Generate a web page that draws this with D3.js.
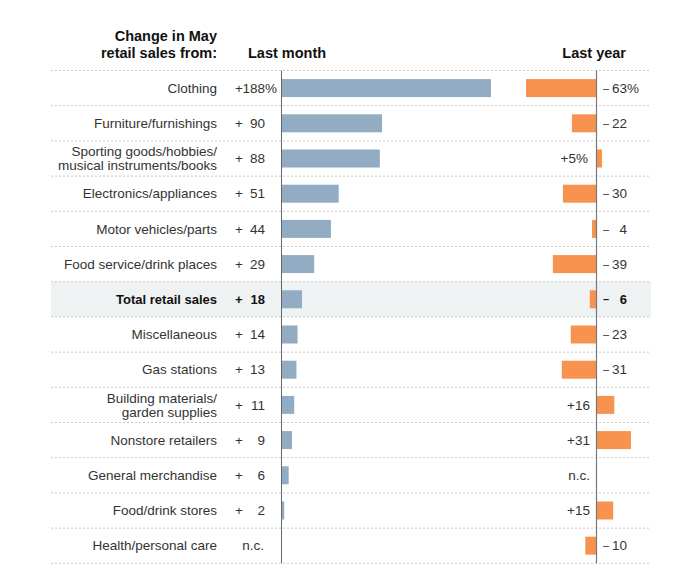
<!DOCTYPE html>
<html>
<head>
<meta charset="utf-8">
<script src="https://cdn.jsdelivr.net/npm/d3@7"></script>
<style>
  body { margin: 0; background: #fff; }
  text { font-family: "Liberation Sans", Arial, sans-serif; }
</style>
</head>
<body>
<svg id="chart" width="692" height="572"></svg>
<script>
const categories = [
  ["Clothing"],
  ["Furniture/furnishings"],
  ["Sporting goods/hobbies/", "musical instruments/books"],
  ["Electronics/appliances"],
  ["Motor vehicles/parts"],
  ["Food service/drink places"],
  ["Total retail sales"],
  ["Miscellaneous"],
  ["Gas stations"],
  ["Building materials/", "garden supplies"],
  ["Nonstore retailers"],
  ["General merchandise"],
  ["Food/drink stores"],
  ["Health/personal care"]
];
const lastMonth = [188, 90, 88, 51, 44, 29, 18, 14, 13, 11, 9, 6, 2, null];
const lastYear  = [-63, -22, 5, -30, -4, -39, -6, -23, -31, 16, 31, null, 15, -10];
const highlightIndex = 6;
const headerLines = ["Change in May", "retail sales from:"];
const colLabels = ["Last month", "Last year"];

const svg = d3.select("#chart");
const blue = "#92acc3", orange = "#f7934f";
const textColor = "#333";
const fs = 13.5;

const rowsData = categories.map((lines, i) => ({ i, lines, m: lastMonth[i], yv: lastYear[i] }));

const y = d3.scaleBand().domain(d3.range(categories.length)).range([70.5, 563.3]).padding(0);
const xL = d3.scaleLinear().domain([0, 188]).range([282, 491]);
const xR = d3.scaleLinear().domain([-63, 0, 31]).range([526, 596.5, 631]);

// highlight band
svg.append("rect")
  .attr("x", 51).attr("width", 600)
  .attr("y", y(highlightIndex)).attr("height", y.bandwidth())
  .attr("fill", "#eff2f3");

// dotted row lines
const lineYs = d3.range(categories.length + 1).map(i => y.range()[0] + i * y.step());
svg.selectAll("line.row").data(lineYs).enter().append("line")
  .attr("x1", 51).attr("x2", 651)
  .attr("y1", d => d).attr("y2", d => d)
  .attr("stroke", "#c8c8c8").attr("stroke-width", 1)
  .attr("stroke-dasharray", "2,2");

// header
const hdr = (x, yy, anchor, t) => svg.append("text").attr("x", x).attr("y", yy).attr("text-anchor", anchor)
  .attr("font-size", 14.5).attr("font-weight", "bold").attr("fill", "#111").text(t);
hdr(217, 41, "end", headerLines[0]);
hdr(217, 58, "end", headerLines[1]);
hdr(248, 58, "start", colLabels[0]);
hdr(626, 58, "end", colLabels[1]);

const rows = svg.selectAll("g.row").data(rowsData).enter().append("g")
  .attr("class", "row")
  .attr("transform", d => `translate(0,${y(d.i) + y.bandwidth() / 2})`);

// left bars
rows.filter(d => d.m != null).append("rect")
  .attr("x", xL(0))
  .attr("y", -9)
  .attr("height", 18)
  .attr("width", d => xL(d.m) - xL(0))
  .attr("fill", blue);

// right bars
rows.filter(d => d.yv != null).append("rect")
  .attr("x", d => Math.min(xR(0), xR(d.yv)))
  .attr("y", -9)
  .attr("height", 18)
  .attr("width", d => Math.abs(xR(d.yv) - xR(0)))
  .attr("fill", orange);

const firstPosRight = lastYear.findIndex(v => v != null && v > 0);

rows.each(function(d) {
  const g = d3.select(this);
  const i = d.i;
  const bold = i === highlightIndex;
  const fw = bold ? "bold" : "normal";
  const fc = bold ? "#111" : textColor;
  const txt = (x, anchor, t, weight, size, yy) => g.append("text").attr("x", x).attr("y", yy == null ? 4.7 : yy)
    .attr("text-anchor", anchor).attr("font-size", size || (bold ? 13 : fs))
    .attr("font-weight", weight || fw).attr("fill", fc).text(t);

  // category label
  const n = d.lines.length;
  d.lines.forEach((ln, j) => {
    g.append("text")
      .attr("x", 217)
      .attr("y", 4.7 + (j - (n - 1) / 2) * 14)
      .attr("text-anchor", "end")
      .attr("font-size", bold ? 13 : fs)
      .attr("font-weight", fw)
      .attr("fill", fc)
      .text(ln);
  });

  // last month values
  if (d.m == null) {
    txt(264, "end", "n.c.");
  } else {
    txt(235, "start", "+");
    txt(265, "end", Math.abs(d.m));
    if (i === 0) txt(265, "start", "%", "normal");
  }

  // last year values
  if (d.yv == null) {
    txt(590, "end", "n.c.");
  } else if (d.yv > 0) {
    const pct = i === firstPosRight;
    txt(pct ? 588 : 590, "end", "+" + d.yv + (pct ? "%" : ""));
  } else {
    txt(603, "start", "–", null, 11, 3.6);
    txt(627, "end", Math.abs(d.yv));
    if (i === 0) txt(627, "start", "%", "normal");
  }
});

// axis lines
svg.append("line").attr("x1", xL(0) - 0.5).attr("x2", xL(0) - 0.5)
  .attr("y1", y.range()[0]).attr("y2", y.range()[1])
  .attr("stroke", "#666").attr("stroke-width", 1);
svg.append("line").attr("x1", xR(0)).attr("x2", xR(0))
  .attr("y1", y.range()[0]).attr("y2", y.range()[1])
  .attr("stroke", "#777").attr("stroke-width", 1.2);
</script>
</body>
</html>
